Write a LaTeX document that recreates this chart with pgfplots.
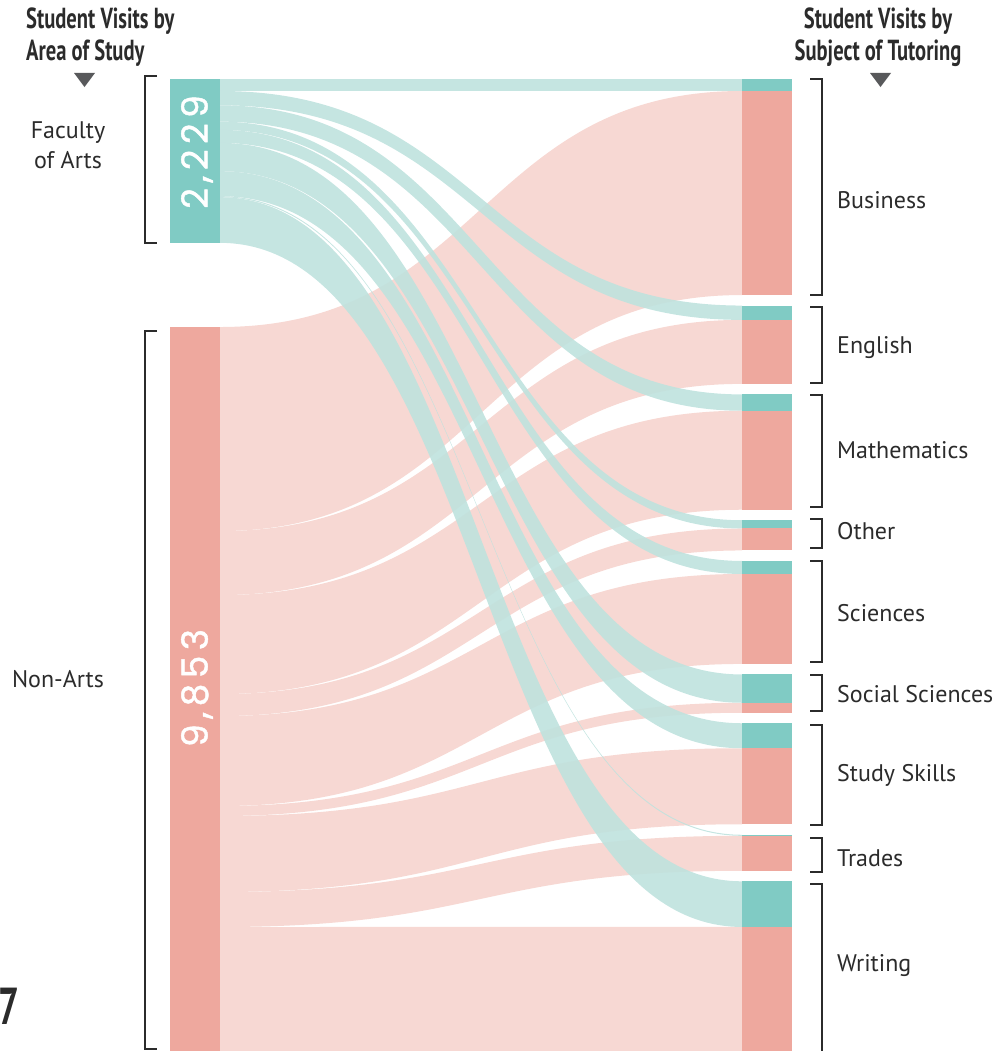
\documentclass[border=0pt]{standalone}
\usepackage{pgfplots}
\pgfplotsset{compat=1.18}
\usepackage{fontspec}
\setmainfont{PT Sans}
\newfontfamily\titlefont[FakeStretch=0.71]{PT Sans}
\newfontfamily\numfont[LetterSpace=15, FakeBold=1.2]{Poppins}
\definecolor{tealbar}{HTML}{80CBC4}
\definecolor{salbar}{HTML}{EEA89E}
\definecolor{tealrib}{HTML}{BFE2DE}
\definecolor{salrib}{HTML}{F7D8D3}
\definecolor{ink}{HTML}{2B2B2B}
\definecolor{tri}{HTML}{58595B}

% ribbon: colour, left top, right top, value (visits)
\newcommand{\flow}[4]{%
  \fill[#1] (axis cs:220,#2) .. controls (axis cs:481,#2) and (axis cs:481,#3) .. (axis cs:742,#3)
    -- (axis cs:742,{#3+#4}) .. controls (axis cs:481,{#3+#4}) and (axis cs:481,{#2+#4}) .. (axis cs:220,{#2+#4}) -- cycle;}
% bar segment: x0, x1, y top, y bottom, colour
\newcommand{\seg}[5]{%
  \addplot[fill=#5, draw=none] coordinates {(#1,#3) (#2,#3) (#2,#4) (#1,#4)};}
% right bracket
\newcommand{\rbr}[2]{\draw[ink, line width=1.4pt] (axis cs:810,#1) -- (axis cs:822,#1) -- (axis cs:822,#2) -- (axis cs:810,#2);}

\begin{document}
\begin{tikzpicture}
\begin{axis}[hide axis, scale only axis, width=996pt, height=1051pt,
  xmin=0, xmax=996, ymin=-1075, ymax=13224, y dir=reverse, clip=false]

% ---- Non-Arts ribbons (salmon): left top, right top, visits
\flow{salrib}{3374}{163}{2776}
\flow{salrib}{6150}{3277}{871}
\flow{salrib}{7021}{4513}{1347}
\flow{salrib}{8368}{6115}{299}
\flow{salrib}{8667}{6734}{1224}
\flow{salrib}{9891}{8486}{136}
\flow{salrib}{10027}{9105}{1034}
\flow{salrib}{11061}{10296}{476}
\flow{salrib}{11537}{11536}{1690}

% ---- Faculty of Arts ribbons (teal)
\begin{scope}[opacity=0.9]
\flow{tealrib}{0}{0}{163}
\flow{tealrib}{163}{3082}{195}
\flow{tealrib}{358}{4291}{222}
\flow{tealrib}{580}{6003}{112}
\flow{tealrib}{692}{6557}{177}
\flow{tealrib}{869}{8101}{385}
\flow{tealrib}{1254}{8765}{340}
\flow{tealrib}{1594}{10282}{14}
\flow{tealrib}{1608}{10915}{621}
\end{scope}

% ---- left bars
\seg{170}{220}{0}{2229}{tealbar}
\seg{170}{220}{3374}{13227}{salbar}

% ---- right bars (teal = Arts, salmon = Non-Arts)
\seg{742}{792}{0}{163}{tealbar}
\seg{742}{792}{163}{2939}{salbar}
\seg{742}{792}{3082}{3277}{tealbar}
\seg{742}{792}{3277}{4148}{salbar}
\seg{742}{792}{4291}{4513}{tealbar}
\seg{742}{792}{4513}{5860}{salbar}
\seg{742}{792}{6003}{6115}{tealbar}
\seg{742}{792}{6115}{6414}{salbar}
\seg{742}{792}{6557}{6734}{tealbar}
\seg{742}{792}{6734}{7958}{salbar}
\seg{742}{792}{8101}{8486}{tealbar}
\seg{742}{792}{8486}{8622}{salbar}
\seg{742}{792}{8765}{9105}{tealbar}
\seg{742}{792}{9105}{10139}{salbar}
\seg{742}{792}{10282}{10296}{tealbar}
\seg{742}{792}{10296}{10772}{salbar}
\seg{742}{792}{10915}{11536}{tealbar}
\seg{742}{792}{11536}{13226}{salbar}

% ---- brackets
\draw[ink, line width=1.4pt] (axis cs:157,-41) -- (axis cs:145,-41) -- (axis cs:145,2231) -- (axis cs:157,2231);
\draw[ink, line width=1.4pt] (axis cs:157,3428) -- (axis cs:145,3428) -- (axis cs:145,13197) -- (axis cs:157,13197);
\rbr{0}{2939}
\rbr{3102}{4136}
\rbr{4299}{5823}
\rbr{5986}{6381}
\rbr{6558}{7932}
\rbr{8109}{8598}
\rbr{8789}{10149}
\rbr{10326}{10789}
\draw[ink, line width=1.4pt] (axis cs:810,10952) -- (axis cs:822,10952) -- (axis cs:822,13300);

% ---- labels
\begin{scope}[every node/.style={text=ink, font=\fontsize{24}{29.5}\selectfont, inner sep=0pt}]
\node[align=center] at (axis cs:68,898) {Faculty\\of Arts};
\node at (axis cs:58,8163) {Non-Arts};
\node[anchor=west] at (axis cs:837,1646) {Business};
\node[anchor=west] at (axis cs:837,3660) {English};
\node[anchor=west] at (axis cs:837,5047) {Mathematics};
\node[anchor=west] at (axis cs:837,6149) {Other};
\node[anchor=west] at (axis cs:837,7265) {Sciences};
\node[anchor=west] at (axis cs:837,8367) {Social Sciences};
\node[anchor=west] at (axis cs:837,9480) {Study Skills};
\node[anchor=west] at (axis cs:837,10598) {Trades};
\node[anchor=west] at (axis cs:837,12068) {Writing};
\end{scope}

% ---- totals
\node[rotate=90, text=white, inner sep=0pt, font=\numfont\fontsize{36}{40}\selectfont] at (axis cs:197,993) {2,229};
\node[rotate=90, text=white, inner sep=0pt, font=\numfont\fontsize{36}{40}\selectfont] at (axis cs:197,8285) {9,853};

% ---- titles
\node[anchor=west, align=left, text=ink, inner sep=0pt, font=\titlefont\bfseries\fontsize{29}{32}\selectfont] at (axis cs:26,-571) {Student Visits by\\Area of Study};
\node[align=center, text=ink, inner sep=0pt, font=\titlefont\bfseries\fontsize{29}{32}\selectfont] at (axis cs:878,-571) {Student Visits by\\Subject of Tutoring};
\fill[tri] (axis cs:74,-82) -- (axis cs:95,-82) -- (axis cs:84.5,109) -- cycle;
\fill[tri] (axis cs:870,-82) -- (axis cs:891,-82) -- (axis cs:880.5,109) -- cycle;

\node[anchor=west, text=ink, inner sep=0pt, font=\titlefont\bfseries\fontsize{52}{56}\selectfont] at (axis cs:-2,12612) {7};
\end{axis}
\pgfresetboundingbox
\path (current axis.south west) rectangle (current axis.north east);
\end{tikzpicture}
\end{document}
